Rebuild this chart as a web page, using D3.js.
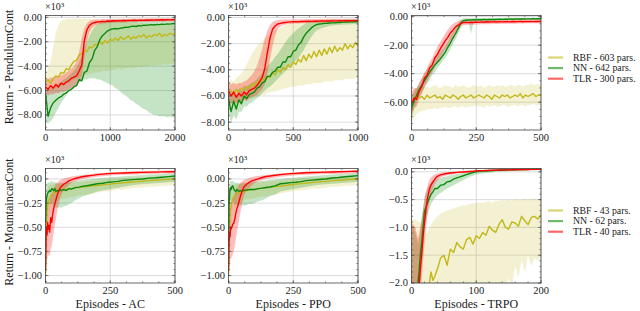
<!DOCTYPE html>
<html>
<head>
<meta charset="utf-8">
<script src="https://cdn.jsdelivr.net/npm/d3@7"></script>
<style>
body { margin: 0; background: #fff; }
</style>
</head>
<body>
<svg id="fig" width="640" height="311"></svg>
<script>
// ---- data (returns in units of 10^3) ----
var seriesNames = ["RBF", "NN", "TLR"];
var pendLegend = ["RBF - 603 pars.", "NN - 642 pars.", "TLR - 300 pars."];
var mountLegend = ["RBF - 43 pars.", "NN - 62 pars.", "TLR - 40 pars."];
var algoNames = ["AC", "PPO", "TRPO"];

// x samples (episodes)
var acPendX = d3.range(0, 2001, 40);
var ppoPendX = d3.range(0, 1001, 20);
var trpoPendX = d3.range(0, 501, 10);
var mountX = [0,2,4,6,8,10, 13,16,20,24,28,32,36,40, 45,50,55,60, 70,80,90,100, 115,130,145,160,
  180,200,220,240,260,280,300, 325,350,375,400,425,450,475,500];
var trpoMountX = [0,3,6,8, 10,12,14,16,18,20,22,24,26,28,30, 33,36,40,
  45,50,55,60,65,70,75,80,85,90,95,100, 105,110,115,120,125,130,135,140,145,150,
  155,160,165,170,175,180,185,190,195,200];

// AC - Pendulum
var acPendRbf = [-5.3,-5.1,-5.4,-5.0,-4.8,-4.9,-4.5,-4.6,-4.2,-4.3,
  -3.9,-3.6,-3.5,-3.1,-3.0,-2.7,-2.8,-2.4,-2.5,-2.2,
  -2.3,-2.0,-2.2,-1.9,-2.1,-1.8,-1.9,-1.7,-1.9,-1.6,
  -1.8,-1.7,-1.5,-1.8,-1.6,-1.7,-1.5,-1.6,-1.4,-1.7,
  -1.5,-1.6,-1.4,-1.5,-1.3,-1.6,-1.4,-1.5,-1.3,-1.4, -1.3];
var acPendRbfLo = [-6.0,-6.1,-6.0,-5.9,-5.8,-5.8,-5.6,-5.6,-5.4,-5.4,
  -5.2,-5.1,-5.0,-4.9,-4.8,-4.7,-4.7,-4.6,-4.6,-4.5,
  -4.5,-4.5,-4.4,-4.4,-4.4,-4.3,-4.3,-4.3,-4.2,-4.3,
  -4.2,-4.2,-4.1,-4.2,-4.1,-4.1,-4.0,-4.1,-4.0,-4.0,
  -4.0,-3.9,-4.0,-3.9,-3.9,-3.9,-3.8,-3.9,-3.8,-3.8, -3.8];
var acPendRbfHi = [-4.7,-4.2,-3.6,-2.5,-1.2,-0.6,-0.3,-0.2,-0.15,-0.1,
  -0.15,-0.1,-0.12,-0.1,-0.12,-0.1,-0.15,-0.12,-0.2,-0.15,
  -0.2,-0.25,-0.2,-0.3,-0.25,-0.3,-0.3,-0.35,-0.3,-0.35,
  -0.4,-0.35,-0.4,-0.45,-0.4,-0.45,-0.5,-0.45,-0.5,-0.5,
  -0.55,-0.5,-0.55,-0.6,-0.55,-0.6,-0.6,-0.65,-0.6,-0.65, -0.7];
var acPendNn = [-6.2,-8.1,-7.4,-7.0,-6.8,-6.6,-6.5,-6.3,-6.2,-6.0,
  -5.9,-5.7,-5.6,-5.1,-5.2,-4.5,-4.4,-3.7,-3.4,-2.7,
  -2.4,-1.8,-1.5,-1.3,-1.1,-1.0,-0.95,-0.92,-0.95,-0.88,
  -0.85,-0.8,-0.82,-0.74,-0.72,-0.75,-0.68,-0.7,-0.64,-0.66,
  -0.62,-0.6,-0.63,-0.58,-0.6,-0.56,-0.58,-0.54,-0.56,-0.52, -0.5];
var acPendNnLo = [-8.6,-8.7,-8.5,-8.2,-7.8,-7.4,-7.0,-6.7,-6.4,-6.1,
  -5.9,-5.7,-5.5,-5.3,-5.2,-5.1,-5.1,-5.0,-5.0,-5.0,
  -5.1,-5.1,-5.2,-5.3,-5.4,-5.5,-5.6,-5.8,-5.9,-6.1,
  -6.3,-6.4,-6.6,-6.8,-6.9,-7.1,-7.2,-7.4,-7.5,-7.6,
  -7.8,-7.9,-8.0,-8.0,-8.1,-8.1,-8.1,-8.2,-8.1,-8.2, -8.2];
var acPendNnHi = [-5.6,-6.0,-5.8,-5.7,-5.5,-5.4,-5.3,-5.1,-5.0,-4.8,
  -4.6,-4.4,-4.1,-3.7,-3.2,-2.6,-2.0,-1.5,-1.1,-0.8,
  -0.6,-0.45,-0.35,-0.3,-0.25,-0.22,-0.2,-0.2,-0.19,-0.18,
  -0.18,-0.17,-0.17,-0.16,-0.16,-0.15,-0.15,-0.15,-0.14,-0.14,
  -0.14,-0.13,-0.13,-0.13,-0.13,-0.12,-0.12,-0.12,-0.12,-0.12, -0.11];
var acPendTlr = [-5.7,-5.9,-5.6,-5.8,-5.5,-5.7,-5.4,-5.5,-5.3,-5.2,
  -5.0,-4.9,-4.8,-4.4,-3.9,-1.9,-1.0,-0.65,-0.5,-0.42,
  -0.38,-0.36,-0.33,-0.35,-0.3,-0.32,-0.28,-0.3,-0.27,-0.29,
  -0.26,-0.28,-0.25,-0.27,-0.24,-0.26,-0.25,-0.23,-0.25,-0.22,
  -0.24,-0.22,-0.23,-0.21,-0.22,-0.2,-0.22,-0.2,-0.21,-0.19, -0.2];
var acPendTlrLo = [-6.3,-6.4,-6.3,-6.3,-6.2,-6.2,-6.1,-6.1,-6.0,-5.9,
  -5.8,-5.7,-5.6,-5.3,-4.9,-3.4,-2.0,-1.2,-0.85,-0.7,
  -0.6,-0.55,-0.5,-0.5,-0.48,-0.47,-0.45,-0.45,-0.43,-0.44,
  -0.42,-0.42,-0.4,-0.41,-0.39,-0.4,-0.39,-0.38,-0.38,-0.37,
  -0.37,-0.36,-0.36,-0.35,-0.35,-0.34,-0.34,-0.33,-0.33,-0.33, -0.32];
var acPendTlrHi = [-5.0,-5.1,-4.9,-5.0,-4.8,-4.9,-4.7,-4.7,-4.5,-4.4,
  -4.2,-4.0,-3.6,-2.8,-1.7,-0.9,-0.5,-0.3,-0.22,-0.18,
  -0.16,-0.15,-0.14,-0.14,-0.13,-0.13,-0.12,-0.12,-0.12,-0.11,
  -0.11,-0.11,-0.1,-0.1,-0.1,-0.1,-0.09,-0.09,-0.09,-0.09,
  -0.08,-0.08,-0.08,-0.08,-0.08,-0.07,-0.07,-0.07,-0.07,-0.07, -0.06];

// PPO - Pendulum
var ppoPendRbf = [-5.8,-5.6,-5.9,-5.5,-5.7,-5.4,-5.6,-5.3,-5.4,-5.1,
  -5.2,-4.9,-5.0,-4.7,-4.8,-4.5,-4.6,-4.2,-4.4,-4.0,
  -4.2,-3.8,-4.0,-3.6,-3.8,-3.4,-3.6,-3.2,-3.4,-2.9,
  -3.3,-2.8,-3.1,-2.6,-3.0,-2.5,-2.9,-2.4,-2.8,-2.3,
  -2.7,-2.2,-2.6,-2.3,-2.5,-2.0,-2.4,-2.1,-2.3,-1.9, -2.2];
var ppoPendRbfLo = [-6.6,-6.6,-6.5,-6.5,-6.4,-6.4,-6.3,-6.3,-6.2,-6.2,
  -6.1,-6.0,-6.0,-5.9,-5.9,-5.8,-5.7,-5.7,-5.6,-5.6,
  -5.5,-5.5,-5.4,-5.4,-5.3,-5.3,-5.3,-5.2,-5.2,-5.2,
  -5.1,-5.1,-5.1,-5.0,-5.0,-5.0,-5.0,-4.9,-4.9,-4.9,
  -4.9,-4.8,-4.8,-4.8,-4.8,-4.7,-4.7,-4.7,-4.7,-4.6, -4.6];
var ppoPendRbfHi = [-5.0,-4.8,-4.9,-4.6,-4.5,-4.3,-4.0,-3.6,-3.2,-2.8,
  -2.5,-2.2,-2.0,-1.8,-1.6,-1.4,-1.3,-1.1,-1.0,-0.9,
  -0.8,-0.7,-0.6,-0.5,-0.45,-0.4,-0.38,-0.35,-0.33,-0.3,
  -0.3,-0.28,-0.27,-0.26,-0.25,-0.25,-0.24,-0.23,-0.23,-0.22,
  -0.22,-0.21,-0.21,-0.2,-0.2,-0.2,-0.2,-0.19,-0.19,-0.19, -0.18];
var ppoPendNn = [-6.2,-7.2,-6.4,-7.0,-6.3,-6.6,-6.0,-6.2,-5.9,-5.8,
  -5.7,-5.4,-5.3,-5.0,-4.9,-4.5,-4.5,-4.2,-4.1,-3.8,
  -3.8,-3.4,-3.4,-3.0,-3.0,-2.6,-2.5,-2.1,-1.9,-1.5,
  -1.2,-1.0,-0.8,-0.65,-0.55,-0.5,-0.48,-0.45,-0.44,-0.42,
  -0.41,-0.4,-0.38,-0.38,-0.36,-0.36,-0.35,-0.34,-0.34,-0.33, -0.32];
var ppoPendNnLo = [-7.3,-8.0,-7.5,-7.8,-7.2,-7.2,-6.8,-6.8,-6.6,-6.5,
  -6.3,-6.2,-6.0,-5.8,-5.6,-5.4,-5.3,-5.1,-4.9,-4.7,
  -4.5,-4.3,-4.1,-3.9,-3.7,-3.5,-3.3,-3.1,-2.8,-2.5,
  -2.1,-1.8,-1.5,-1.2,-1.0,-0.9,-0.8,-0.75,-0.7,-0.65,
  -0.62,-0.6,-0.58,-0.56,-0.55,-0.54,-0.53,-0.52,-0.51,-0.5, -0.5];
var ppoPendNnHi = [-5.3,-6.2,-5.5,-6.0,-5.4,-5.6,-5.2,-5.3,-5.1,-5.0,
  -4.9,-4.7,-4.5,-4.3,-4.0,-3.7,-3.5,-3.3,-3.0,-2.8,
  -2.5,-2.2,-1.9,-1.6,-1.4,-1.2,-1.0,-0.85,-0.7,-0.55,
  -0.45,-0.35,-0.3,-0.25,-0.22,-0.2,-0.19,-0.18,-0.17,-0.17,
  -0.16,-0.16,-0.15,-0.15,-0.15,-0.14,-0.14,-0.14,-0.13,-0.13, -0.13];
var ppoPendTlr = [-5.6,-6.0,-5.7,-6.1,-5.8,-6.0,-5.7,-5.9,-5.6,-5.5,
  -5.4,-5.2,-4.9,-4.6,-3.9,-2.7,-1.6,-0.9,-0.65,-0.5,
  -0.45,-0.4,-0.38,-0.36,-0.34,-0.33,-0.32,-0.33,-0.31,-0.3,
  -0.31,-0.29,-0.3,-0.28,-0.29,-0.28,-0.27,-0.28,-0.27,-0.26,
  -0.27,-0.26,-0.26,-0.25,-0.26,-0.25,-0.25,-0.24,-0.25,-0.24, -0.24];
var ppoPendTlrLo = [-6.4,-6.6,-6.5,-6.6,-6.4,-6.5,-6.3,-6.4,-6.2,-6.1,
  -6.0,-5.9,-5.7,-5.5,-5.1,-4.3,-3.2,-2.2,-1.4,-0.9,
  -0.7,-0.6,-0.55,-0.5,-0.5,-0.48,-0.47,-0.46,-0.45,-0.45,
  -0.44,-0.43,-0.43,-0.42,-0.42,-0.41,-0.4,-0.4,-0.4,-0.39,
  -0.39,-0.38,-0.38,-0.38,-0.37,-0.37,-0.36,-0.36,-0.36,-0.35, -0.35];
var ppoPendTlrHi = [-4.9,-5.1,-5.0,-5.1,-5.0,-5.0,-4.9,-4.8,-4.6,-4.4,
  -4.1,-3.7,-3.1,-2.4,-1.6,-1.0,-0.6,-0.35,-0.25,-0.2,
  -0.18,-0.17,-0.16,-0.15,-0.15,-0.14,-0.14,-0.13,-0.13,-0.13,
  -0.12,-0.12,-0.12,-0.12,-0.11,-0.11,-0.11,-0.11,-0.1,-0.1,
  -0.1,-0.1,-0.1,-0.1,-0.09,-0.09,-0.09,-0.09,-0.09,-0.08, -0.08];

// TRPO - Pendulum
var trpoPendRbf = [-6.5,-5.8,-5.5,-5.7,-5.6,-5.8,-5.5,-5.7,-5.6,-5.5,
  -5.7,-5.6,-5.8,-5.5,-5.6,-5.7,-5.5,-5.6,-5.8,-5.6,
  -5.5,-5.7,-5.6,-5.5,-5.7,-5.6,-5.5,-5.6,-5.7,-5.5,
  -5.6,-5.8,-5.5,-5.6,-5.7,-5.5,-5.6,-5.5,-5.7,-5.6,
  -5.5,-5.6,-5.4,-5.7,-5.5,-5.6,-5.5,-5.4,-5.6,-5.5, -5.5];
var trpoPendRbfLo = [-7.6,-7.1,-6.8,-6.7,-6.6,-6.6,-6.5,-6.5,-6.5,-6.4,
  -6.5,-6.4,-6.4,-6.3,-6.4,-6.4,-6.3,-6.3,-6.4,-6.3,
  -6.3,-6.4,-6.3,-6.3,-6.3,-6.2,-6.3,-6.3,-6.4,-6.2,
  -6.3,-6.3,-6.2,-6.3,-6.3,-6.2,-6.2,-6.3,-6.3,-6.2,
  -6.2,-6.3,-6.2,-6.2,-6.3,-6.2,-6.2,-6.1,-6.2,-6.2, -6.2];
var trpoPendRbfHi = [-5.8,-5.1,-5.0,-4.9,-5.0,-4.9,-4.9,-5.0,-4.9,-4.8,
  -4.9,-5.0,-4.9,-4.8,-4.9,-4.9,-5.0,-4.8,-4.9,-4.9,
  -4.8,-4.9,-5.0,-4.9,-4.8,-4.9,-4.9,-4.8,-5.0,-4.9,
  -4.8,-4.9,-4.9,-4.8,-4.9,-4.8,-4.9,-4.9,-4.8,-4.8,
  -4.9,-4.8,-4.8,-4.9,-4.8,-4.8,-4.7,-4.8,-4.8,-4.7, -4.8];
var trpoPendNn = [-6.4,-5.9,-5.5,-5.1,-4.8,-4.5,-4.2,-3.9,-3.65,-3.4,
  -3.2,-3.0,-2.75,-2.5,-2.15,-1.85,-1.5,-1.2,-0.85,-0.46,
  -0.28,-0.25,-0.24,-0.23,-0.22,-0.23,-0.21,-0.22,-0.2,-0.21,
  -0.2,-0.19,-0.2,-0.19,-0.18,-0.19,-0.18,-0.18,-0.17,-0.18,
  -0.17,-0.17,-0.16,-0.17,-0.16,-0.16,-0.16,-0.15,-0.16,-0.15, -0.15];
var trpoPendNnLo = [-7.2,-6.5,-6.0,-5.6,-5.3,-5.0,-4.7,-4.4,-4.1,-3.9,
  -3.6,-3.4,-3.1,-2.9,-2.6,-2.3,-1.9,-1.6,-1.2,-0.8,
  -0.45,-0.38,-0.36,-1.2,-0.34,-0.33,-0.32,-0.32,-0.31,-0.3,
  -0.3,-0.29,-0.29,-0.28,-0.28,-0.27,-0.27,-0.27,-0.26,-0.26,
  -0.26,-0.25,-0.25,-0.25,-0.24,-0.24,-0.24,-0.23,-0.23,-0.23, -0.22];
var trpoPendNnHi = [-5.6,-5.3,-5.0,-4.7,-4.3,-4.0,-3.7,-3.4,-3.2,-2.9,
  -2.7,-2.5,-2.3,-2.1,-1.8,-1.4,-1.1,-0.8,-0.5,-0.2,
  -0.12,-0.12,-0.11,-0.11,-0.11,-0.1,-0.1,-0.1,-0.1,-0.1,
  -0.09,-0.09,-0.09,-0.09,-0.09,-0.09,-0.08,-0.08,-0.08,-0.08,
  -0.08,-0.08,-0.08,-0.07,-0.07,-0.07,-0.07,-0.07,-0.07,-0.07, -0.07];
var trpoPendTlr = [-6.1,-5.7,-5.8,-5.2,-4.9,-4.3,-4.1,-3.6,-3.4,-2.9,
  -2.65,-2.3,-2.0,-1.7,-1.45,-1.15,-0.95,-0.72,-0.6,-0.47,
  -0.42,-0.4,-0.42,-0.39,-0.41,-0.38,-0.4,-0.37,-0.39,-0.36,
  -0.38,-0.37,-0.36,-0.38,-0.35,-0.37,-0.36,-0.35,-0.37,-0.34,
  -0.36,-0.35,-0.34,-0.36,-0.34,-0.35,-0.33,-0.35,-0.34,-0.33, -0.34];
var trpoPendTlrLo = [-6.9,-6.4,-6.3,-5.8,-5.4,-4.9,-4.6,-4.2,-3.9,-3.5,
  -3.2,-2.9,-2.6,-2.3,-2.0,-1.7,-1.4,-1.1,-0.9,-0.7,
  -0.6,-0.58,-0.57,-0.56,-0.56,-0.55,-0.55,-0.54,-0.54,-0.53,
  -0.53,-0.52,-0.52,-0.51,-0.51,-0.5,-0.5,-0.5,-0.49,-0.49,
  -0.49,-0.48,-0.48,-0.48,-0.47,-0.47,-0.47,-0.46,-0.46,-0.46, -0.45];
var trpoPendTlrHi = [-5.3,-5.0,-5.0,-4.6,-4.3,-3.9,-3.6,-3.2,-2.9,-2.5,
  -2.1,-1.8,-1.5,-1.2,-0.9,-0.7,-0.5,-0.4,-0.3,-0.25,
  -0.22,-0.21,-0.21,-0.2,-0.2,-0.2,-0.2,-0.19,-0.19,-0.19,
  -0.19,-0.18,-0.18,-0.18,-0.18,-0.18,-0.17,-0.17,-0.17,-0.17,
  -0.17,-0.17,-0.16,-0.16,-0.16,-0.16,-0.16,-0.16,-0.15,-0.15, -0.15];

// AC - MountaincarCont
var acMountRbf = [-1.0,-0.7,-0.45,-0.35,-0.28,-0.25, -0.22,-0.2,-0.18,-0.16,-0.15,-0.14,-0.14,-0.13,
  -0.13,-0.12,-0.12,-0.115, -0.11,-0.11,-0.1,-0.1, -0.09,-0.088,-0.082,-0.078,
  -0.072,-0.068,-0.062,-0.056,-0.05,-0.046,-0.04, -0.034,-0.028,-0.024,-0.018,-0.014,-0.01,-0.005,0.0];
var acMountRbfLo = [-1.05,-1.0,-0.85,-0.7,-0.6,-0.5, -0.42,-0.38,-0.33,-0.3,-0.28,-0.26,-0.25,-0.24,
  -0.23,-0.22,-0.21,-0.21, -0.2,-0.2,-0.19,-0.19, -0.18,-0.17,-0.17,-0.16,
  -0.15,-0.14,-0.13,-0.13,-0.12,-0.11,-0.11, -0.1,-0.09,-0.09,-0.08,-0.08,-0.07,-0.07,-0.06];
var acMountRbfHi = [-0.9,-0.45,-0.25,-0.15,-0.1,-0.08, -0.07,-0.06,-0.06,-0.06,-0.05,-0.05,-0.05,-0.05,
  -0.05,-0.05,-0.05,-0.05, -0.045,-0.04,-0.04,-0.04, -0.035,-0.03,-0.03,-0.025,
  -0.02,-0.015,-0.01,-0.005,0.0,0.005,0.01, 0.012,0.015,0.018,0.02,0.022,0.025,0.027,0.03];
var acMountNn = [-0.45,-0.3,-0.2,-0.17,-0.15,-0.14, -0.13,-0.12,-0.13,-0.1,-0.11,-0.12,-0.1,-0.13,
  -0.12,-0.13,-0.11,-0.12, -0.11,-0.12,-0.1,-0.105, -0.09,-0.085,-0.075,-0.07,
  -0.06,-0.05,-0.045,-0.035,-0.03,-0.025,-0.015, -0.01,-0.005,0.0,0.008,0.012,0.018,0.024,0.03];
var acMountNnLo = [-0.75,-0.55,-0.4,-0.3,-0.28,-0.27, -0.26,-0.26,-0.27,-0.25,-0.27,-0.28,-0.28,-0.3,
  -0.29,-0.3,-0.29,-0.3, -0.28,-0.28,-0.26,-0.25, -0.22,-0.2,-0.18,-0.17,
  -0.15,-0.13,-0.12,-0.11,-0.1,-0.09,-0.08, -0.07,-0.06,-0.055,-0.05,-0.045,-0.04,-0.035,-0.03];
var acMountNnHi = [-0.2,-0.1,-0.05,-0.05,-0.04,-0.04, -0.03,-0.04,-0.03,-0.02,-0.03,-0.04,-0.03,-0.04,
  -0.04,-0.05,-0.04,-0.04, -0.04,-0.04,-0.03,-0.03, -0.02,-0.015,-0.01,-0.005,
  0.0,0.005,0.01,0.015,0.02,0.022,0.028, 0.03,0.035,0.04,0.045,0.048,0.052,0.056,0.06];
var acMountTlr = [-0.95,-0.62,-0.5,-0.58,-0.45,-0.52, -0.48,-0.55,-0.4,-0.45,-0.36,-0.3,-0.26,-0.22,
  -0.17,-0.13,-0.1,-0.08, -0.055,-0.04,-0.02,-0.01, 0.005,0.015,0.025,0.03,
  0.037,0.045,0.05,0.055,0.058,0.06,0.062, 0.064,0.066,0.068,0.07,0.071,0.073,0.074,0.076];
var acMountTlrLo = [-1.0,-0.95,-0.85,-0.85,-0.78,-0.8, -0.78,-0.8,-0.72,-0.7,-0.62,-0.55,-0.48,-0.42,
  -0.34,-0.27,-0.21,-0.17, -0.12,-0.09,-0.06,-0.04, -0.025,-0.01,0.0,0.008,
  0.015,0.022,0.028,0.033,0.037,0.04,0.043, 0.045,0.047,0.05,0.052,0.053,0.055,0.056,0.058];
var acMountTlrHi = [-0.7,-0.35,-0.25,-0.3,-0.22,-0.25, -0.22,-0.25,-0.15,-0.18,-0.12,-0.09,-0.07,-0.05,
  -0.04,-0.025,-0.015,-0.005, 0.005,0.012,0.02,0.025, 0.03,0.035,0.042,0.047,
  0.052,0.058,0.062,0.066,0.07,0.072,0.075, 0.077,0.079,0.081,0.083,0.085,0.086,0.088,0.09];

// PPO - MountaincarCont
var ppoMountRbf = [-1.0,-0.75,-0.5,-0.38,-0.32,-0.28, -0.24,-0.21,-0.19,-0.17,-0.16,-0.15,-0.15,-0.14,
  -0.14,-0.135,-0.13,-0.125, -0.12,-0.115,-0.11,-0.11, -0.1,-0.095,-0.09,-0.086,
  -0.08,-0.075,-0.068,-0.06,-0.054,-0.048,-0.044, -0.036,-0.03,-0.025,-0.018,-0.013,-0.008,-0.004,0.0];
var ppoMountRbfLo = [-1.05,-1.0,-0.9,-0.75,-0.65,-0.55, -0.45,-0.4,-0.35,-0.32,-0.3,-0.28,-0.27,-0.26,
  -0.25,-0.24,-0.23,-0.22, -0.21,-0.21,-0.2,-0.2, -0.19,-0.18,-0.18,-0.17,
  -0.16,-0.15,-0.14,-0.13,-0.12,-0.12,-0.11, -0.1,-0.1,-0.09,-0.08,-0.08,-0.07,-0.07,-0.06];
var ppoMountRbfHi = [-0.9,-0.5,-0.28,-0.17,-0.12,-0.1, -0.08,-0.07,-0.06,-0.06,-0.06,-0.05,-0.05,-0.05,
  -0.05,-0.05,-0.05,-0.05, -0.045,-0.04,-0.04,-0.04, -0.035,-0.03,-0.03,-0.025,
  -0.02,-0.015,-0.01,-0.005,0.0,0.005,0.01, 0.012,0.015,0.018,0.02,0.022,0.025,0.027,0.03];
var ppoMountNn = [-0.7,-0.3,-0.18,-0.1,-0.09,-0.11, -0.08,-0.07,-0.1,-0.12,-0.13,-0.11,-0.12,-0.13,
  -0.12,-0.13,-0.12,-0.12, -0.115,-0.11,-0.11,-0.11, -0.1,-0.095,-0.088,-0.083,
  -0.072,-0.05,-0.045,-0.038,-0.035,-0.028,-0.017, -0.012,-0.006,0.0,0.01,0.015,0.022,0.028,0.034];
var ppoMountNnLo = [-0.9,-0.55,-0.35,-0.22,-0.22,-0.24, -0.22,-0.22,-0.24,-0.26,-0.27,-0.26,-0.27,-0.28,
  -0.27,-0.28,-0.27,-0.28, -0.27,-0.26,-0.26,-0.25, -0.23,-0.22,-0.2,-0.18,
  -0.16,-0.13,-0.12,-0.11,-0.1,-0.09,-0.08, -0.07,-0.06,-0.055,-0.05,-0.045,-0.04,-0.035,-0.03];
var ppoMountNnHi = [-0.45,-0.1,-0.05,-0.02,-0.02,-0.03, -0.02,-0.02,-0.03,-0.04,-0.04,-0.04,-0.04,-0.05,
  -0.04,-0.05,-0.04,-0.04, -0.04,-0.04,-0.035,-0.03, -0.025,-0.02,-0.015,-0.01,
  -0.005,0.0,0.005,0.01,0.015,0.02,0.025, 0.03,0.035,0.04,0.045,0.05,0.054,0.058,0.062];
var ppoMountTlr = [-0.95,-0.65,-0.55,-0.6,-0.5,-0.52, -0.5,-0.47,-0.46,-0.42,-0.36,-0.31,-0.28,-0.24,
  -0.19,-0.145,-0.11,-0.08, -0.055,-0.035,-0.02,-0.012, 0.0,0.015,0.025,0.03,
  0.038,0.045,0.05,0.055,0.058,0.062,0.064, 0.066,0.068,0.07,0.072,0.074,0.076,0.078,0.08];
var ppoMountTlrLo = [-1.0,-0.95,-0.88,-0.88,-0.82,-0.82, -0.8,-0.78,-0.75,-0.7,-0.63,-0.56,-0.5,-0.44,
  -0.36,-0.29,-0.22,-0.17, -0.12,-0.09,-0.065,-0.045, -0.025,-0.01,0.0,0.008,
  0.015,0.022,0.028,0.033,0.037,0.04,0.043, 0.045,0.048,0.05,0.052,0.054,0.056,0.058,0.06];
var ppoMountTlrHi = [-0.75,-0.4,-0.3,-0.3,-0.25,-0.25, -0.23,-0.2,-0.18,-0.15,-0.12,-0.1,-0.08,-0.06,
  -0.045,-0.03,-0.02,-0.01, 0.0,0.01,0.018,0.024, 0.03,0.036,0.042,0.047,
  0.052,0.058,0.062,0.066,0.07,0.073,0.076, 0.078,0.08,0.082,0.084,0.086,0.088,0.09,0.092];

// TRPO - MountaincarCont
var trpoMountRbf = [-2.5,-2.45,-2.4,-2.4, -2.35,-2.3,-2.3,-2.25,-2.2,-2.2,-2.15,-2.1,-2.05,-1.98,-1.8,
  -1.95,-1.88,-1.75, -1.55,-1.5,-1.68,-1.39,-1.45,-1.27,-1.35,-1.39,-1.22,-1.18,-1.3,-1.15,
  -1.2,-1.09,-1.14,-0.98,-1.05,-1.09,-0.95,-0.86,-1.0,-1.03,
  -0.9,-0.92,-0.98,-0.8,-0.88,-0.95,-0.82,-0.8,-0.85,-0.77];
var trpoMountRbfLo = [-2.6,-2.6,-2.6,-2.6, -2.6,-2.6,-2.6,-2.6,-2.6,-2.6,-2.6,-2.6,-2.6,-2.6,-2.6,
  -2.6,-2.6,-2.6, -2.6,-2.6,-2.6,-2.6,-2.6,-2.6,-2.6,-2.6,-2.6,-2.6,-2.6,-2.6,
  -2.3,-2.2,-2.4,-2.1,-2.3,-2.2,-2.3,-2.0,-2.2,-1.9,
  -2.1,-1.7,-1.9,-1.6,-1.8,-1.5,-1.7,-1.55,-1.6,-1.5];
var trpoMountRbfHi = [-0.85,-0.85,-0.86,-0.87, -0.88,-0.9,-0.92,-0.95,-1.0,-1.05,-1.1,-1.1,-1.05,-1.0,-0.95,
  -0.9,-0.85,-0.8, -0.75,-0.72,-0.7,-0.68,-0.66,-0.64,-0.62,-0.6,-0.6,-0.58,-0.57,-0.56,
  -0.55,-0.56,-0.54,-0.53,-0.55,-0.52,-0.53,-0.51,-0.52,-0.5,
  -0.52,-0.49,-0.51,-0.5,-0.48,-0.5,-0.49,-0.48,-0.5,-0.48];
var trpoMountNn = [-2.8,-2.6,-2.4,-2.2, -2.0,-1.75,-1.45,-1.25,-0.98,-0.7,-0.65,-0.58,-0.52,-0.46,-0.41,
  -0.36,-0.3,-0.3, -0.24,-0.23,-0.18,-0.17,-0.13,-0.11,-0.09,-0.07,-0.05,-0.03,-0.015,0.0,
  0.008,0.012,0.016,0.02,0.024,0.027,0.03,0.032,0.034,0.036,
  0.038,0.04,0.041,0.042,0.043,0.044,0.045,0.046,0.047,0.048];
var trpoMountNnLo = [-3,-3,-3,-3, -2.6,-2.2,-1.9,-1.6,-1.3,-1.0,-0.9,-0.8,-0.72,-0.65,-0.58,
  -0.52,-0.47,-0.42, -0.38,-0.34,-0.3,-0.27,-0.24,-0.21,-0.18,-0.15,-0.12,-0.09,-0.07,-0.05,
  -0.04,-0.03,-0.02,-0.015,-0.01,-0.005,0.0,0.004,0.008,0.012,
  0.015,0.018,0.02,0.022,0.024,0.026,0.028,0.03,0.031,0.032];
var trpoMountNnHi = [-0.95,-1.0,-1.1,-1.2, -1.3,-1.2,-1.0,-0.85,-0.65,-0.45,-0.38,-0.32,-0.27,-0.23,-0.2,
  -0.17,-0.15,-0.13, -0.11,-0.09,-0.08,-0.06,-0.05,-0.04,-0.03,-0.02,-0.01,0.0,0.01,0.02,
  0.025,0.028,0.031,0.034,0.037,0.04,0.042,0.044,0.046,0.048,
  0.05,0.051,0.052,0.053,0.054,0.055,0.056,0.057,0.058,0.059];
var trpoMountTlr = [-2.6,-2.5,-2.4,-2.3, -2.2,-2.0,-1.7,-1.45,-1.15,-0.92,-0.72,-0.52,-0.4,-0.3,-0.24,
  -0.18,-0.13,-0.08, -0.055,-0.04,-0.03,-0.022,-0.016,-0.01,-0.006,-0.002,0.002,0.006,0.01,0.018,
  0.02,0.022,0.024,0.026,0.028,0.03,0.032,0.033,0.035,0.036,
  0.037,0.038,0.04,0.041,0.042,0.043,0.044,0.045,0.046,0.047];
var trpoMountTlrLo = [-3,-3,-3,-3, -3,-2.5,-2.2,-1.9,-1.6,-1.3,-1.05,-0.85,-0.65,-0.5,-0.4,
  -0.3,-0.22,-0.15, -0.1,-0.075,-0.06,-0.048,-0.04,-0.032,-0.026,-0.02,-0.015,-0.01,-0.006,0.0,
  0.003,0.006,0.008,0.01,0.012,0.014,0.016,0.018,0.02,0.021,
  0.022,0.023,0.025,0.026,0.027,0.028,0.029,0.03,0.031,0.032];
var trpoMountTlrHi = [-0.9,-0.95,-1.0,-1.1, -1.2,-1.1,-0.95,-0.8,-0.65,-0.5,-0.38,-0.28,-0.2,-0.14,-0.1,
  -0.07,-0.05,-0.03, -0.015,-0.008,-0.002,0.003,0.007,0.01,0.013,0.016,0.019,0.022,0.025,0.03,
  0.033,0.035,0.037,0.039,0.041,0.043,0.045,0.046,0.048,0.049,
  0.05,0.051,0.053,0.054,0.055,0.056,0.057,0.058,0.059,0.06];

// ---- drawing ----
var FONT = "'Liberation Serif', 'Times New Roman', serif";
var TXT = "#1a1a1a";
var COLORS = {RBF: "#c2b819", NN: "#0c8a0c", TLR: "#ff0000"};
var BAND_OPACITY = {RBF: 0.2, NN: 0.24, TLR: 0.26};
var PW = 129.5, PH = 114.5;
var svg = d3.select("#fig");

function ser(name, m, lo, hi) { return {name: name, mean: m, lo: lo, hi: hi}; }
function label(sel, size) {
  return sel.style("font-family", FONT).style("font-size", size + "px").style("fill", TXT);
}

var panels = [
  {xs: acPendX, xmax: 2000, ymin: -9.23, ymax: 0.15, xticks: [0, 1000, 2000], xminor: 250,
   yticks: [0, -2, -4, -6, -8], yminor: 0.5, fmt: d3.format(".2f"), left: 45.5, top: 15.5,
   series: [ser("RBF", acPendRbf, acPendRbfLo, acPendRbfHi), ser("NN", acPendNn, acPendNnLo, acPendNnHi),
            ser("TLR", acPendTlr, acPendTlrLo, acPendTlrHi)]},
  {xs: ppoPendX, xmax: 1000, ymin: -8.6, ymax: 0.15, xticks: [0, 500, 1000], xminor: 125,
   yticks: [0, -2, -4, -6, -8], yminor: 0.5, fmt: d3.format(".2f"), left: 228.5, top: 15.5,
   series: [ser("RBF", ppoPendRbf, ppoPendRbfLo, ppoPendRbfHi), ser("NN", ppoPendNn, ppoPendNnLo, ppoPendNnHi),
            ser("TLR", ppoPendTlr, ppoPendTlrLo, ppoPendTlrHi)]},
  {xs: trpoPendX, xmax: 500, ymin: -7.95, ymax: 0.08, xticks: [0, 250, 500], xminor: 62.5,
   yticks: [0, -2, -4, -6], yminor: 0.5, fmt: d3.format(".2f"), left: 411.5, top: 15.5,
   series: [ser("RBF", trpoPendRbf, trpoPendRbfLo, trpoPendRbfHi), ser("NN", trpoPendNn, trpoPendNnLo, trpoPendNnHi),
            ser("TLR", trpoPendTlr, trpoPendTlrLo, trpoPendTlrHi)],
   legend: pendLegend},
  {xs: mountX, xmax: 500, ymin: -1.077, ymax: 0.108, xticks: [0, 250, 500], xminor: 62.5,
   yticks: [0, -0.25, -0.5, -0.75, -1], yminor: 0.0625, fmt: d3.format(".2f"), left: 45.5, top: 168.5,
   series: [ser("RBF", acMountRbf, acMountRbfLo, acMountRbfHi), ser("NN", acMountNn, acMountNnLo, acMountNnHi),
            ser("TLR", acMountTlr, acMountTlrLo, acMountTlrHi)]},
  {xs: mountX, xmax: 500, ymin: -1.077, ymax: 0.108, xticks: [0, 250, 500], xminor: 62.5,
   yticks: [0, -0.25, -0.5, -0.75, -1], yminor: 0.0625, fmt: d3.format(".2f"), left: 228.5, top: 168.5,
   series: [ser("RBF", ppoMountRbf, ppoMountRbfLo, ppoMountRbfHi), ser("NN", ppoMountNn, ppoMountNnLo, ppoMountNnHi),
            ser("TLR", ppoMountTlr, ppoMountTlrLo, ppoMountTlrHi)]},
  {xs: trpoMountX, xmax: 200, ymin: -2.0, ymax: 0.06, xticks: [0, 100, 200], xminor: 20,
   yticks: [0, -0.5, -1, -1.5, -2], yminor: 0.1, fmt: d3.format(".1f"), left: 411.5, top: 168.5,
   series: [ser("RBF", trpoMountRbf, trpoMountRbfLo, trpoMountRbfHi), ser("NN", trpoMountNn, trpoMountNnLo, trpoMountNnHi),
            ser("TLR", trpoMountTlr, trpoMountTlrLo, trpoMountTlrHi)],
   legend: mountLegend}
];

var defs = svg.append("defs");

panels.forEach(function(p, i) {
  var x = d3.scaleLinear().domain([0, p.xmax]).range([p.left, p.left + PW]);
  var y = d3.scaleLinear().domain([p.ymin, p.ymax]).range([p.top + PH, p.top]);
  var g = svg.append("g");

  defs.append("clipPath").attr("id", "clip" + i).append("rect")
      .attr("x", p.left).attr("y", p.top).attr("width", PW).attr("height", PH);

  // grid
  g.selectAll(".gx").data(p.xticks).enter().append("line")
      .attr("x1", d => x(d)).attr("x2", d => x(d)).attr("y1", p.top).attr("y2", p.top + PH)
      .style("stroke", "#d2d2d2").style("stroke-width", 0.8);
  g.selectAll(".gy").data(p.yticks).enter().append("line")
      .attr("y1", d => y(d)).attr("y2", d => y(d)).attr("x1", p.left).attr("x2", p.left + PW)
      .style("stroke", "#d2d2d2").style("stroke-width", 0.8);

  var plot = g.append("g").attr("clip-path", "url(#clip" + i + ")");
  var area = d3.area().x((d, k) => x(p.xs[k]));
  var line = d3.line().x((d, k) => x(p.xs[k])).y(d => y(d));

  p.series.forEach(function(s) {
    plot.append("path")
        .datum(s.lo)
        .attr("d", area.y0(d => y(d)).y1((d, k) => y(s.hi[k])))
        .style("fill", COLORS[s.name]).style("fill-opacity", BAND_OPACITY[s.name]).style("stroke", "none");
  });
  p.series.forEach(function(s) {
    plot.append("path")
        .datum(s.mean)
        .attr("d", line)
        .style("fill", "none").style("stroke", COLORS[s.name]).style("stroke-width", 1.4)
        .style("stroke-linejoin", "round");
  });

  // frame
  g.append("rect").attr("x", p.left).attr("y", p.top).attr("width", PW).attr("height", PH)
      .style("fill", "none").style("stroke", "#444").style("stroke-width", 0.8);

  // inward ticks on all sides
  var xmin = d3.range(0, p.xmax + 1e-9, p.xminor);
  var ymin = d3.range(Math.ceil(p.ymin / p.yminor) * p.yminor, p.ymax + 1e-9, p.yminor);
  function tickX(vals, len) {
    vals.forEach(function(v) {
      g.append("line").attr("x1", x(v)).attr("x2", x(v)).attr("y1", p.top + PH).attr("y2", p.top + PH - len)
          .style("stroke", "#444").style("stroke-width", 0.6);
      g.append("line").attr("x1", x(v)).attr("x2", x(v)).attr("y1", p.top).attr("y2", p.top + len)
          .style("stroke", "#444").style("stroke-width", 0.6);
    });
  }
  function tickY(vals, len) {
    vals.forEach(function(v) {
      g.append("line").attr("y1", y(v)).attr("y2", y(v)).attr("x1", p.left).attr("x2", p.left + len)
          .style("stroke", "#444").style("stroke-width", 0.6);
      g.append("line").attr("y1", y(v)).attr("y2", y(v)).attr("x1", p.left + PW).attr("x2", p.left + PW - len)
          .style("stroke", "#444").style("stroke-width", 0.6);
    });
  }
  tickX(xmin, 1.6); tickY(ymin, 1.6);
  tickX(p.xticks, 3); tickY(p.yticks, 3);

  // tick labels
  label(g.selectAll(".xl").data(p.xticks).enter().append("text")
      .attr("x", d => x(d)).attr("y", p.top + PH + 10.8)
      .attr("text-anchor", "middle"), 10.5).text(d => d);
  label(g.selectAll(".yl").data(p.yticks).enter().append("text")
      .attr("x", p.left - 3.5).attr("y", d => y(d)).attr("dy", "0.33em")
      .attr("text-anchor", "end"), 10.5).text(d => p.fmt(d));

  // exponent
  var ex = label(g.append("text").attr("x", p.left - 0.5).attr("y", p.top - 5.5), 10);
  ex.append("tspan").text("×10");
  ex.append("tspan").attr("dy", "-3.5").style("font-size", "7px").text("3");

  // x title on the bottom row
  if (i >= 3) {
    label(g.append("text").attr("x", p.left + PW / 2).attr("y", 308.3)
        .attr("text-anchor", "middle"), 12).text("Episodes - " + algoNames[i - 3]);
  }

  // legend
  if (p.legend) {
    var ly = p.top + 42;
    p.legend.forEach(function(lab, k) {
      var yy = ly + k * 10.6;
      g.append("line").attr("x1", 548).attr("x2", 563).attr("y1", yy).attr("y2", yy)
          .style("stroke", COLORS[seriesNames[k]]).style("stroke-opacity", 0.6).style("stroke-width", 2.2);
      label(g.append("text").attr("x", 573).attr("y", yy).attr("dy", "0.33em"), 9.8).text(lab);
    });
  }
});

// y titles
label(svg.append("text").attr("transform", "translate(12.5,67) rotate(-90)")
    .attr("text-anchor", "middle"), 12).text("Return - PendulumCont");
label(svg.append("text").attr("transform", "translate(12.5,222) rotate(-90)")
    .attr("text-anchor", "middle"), 12).text("Return - MountaincarCont");
</script>
</body>
</html>
